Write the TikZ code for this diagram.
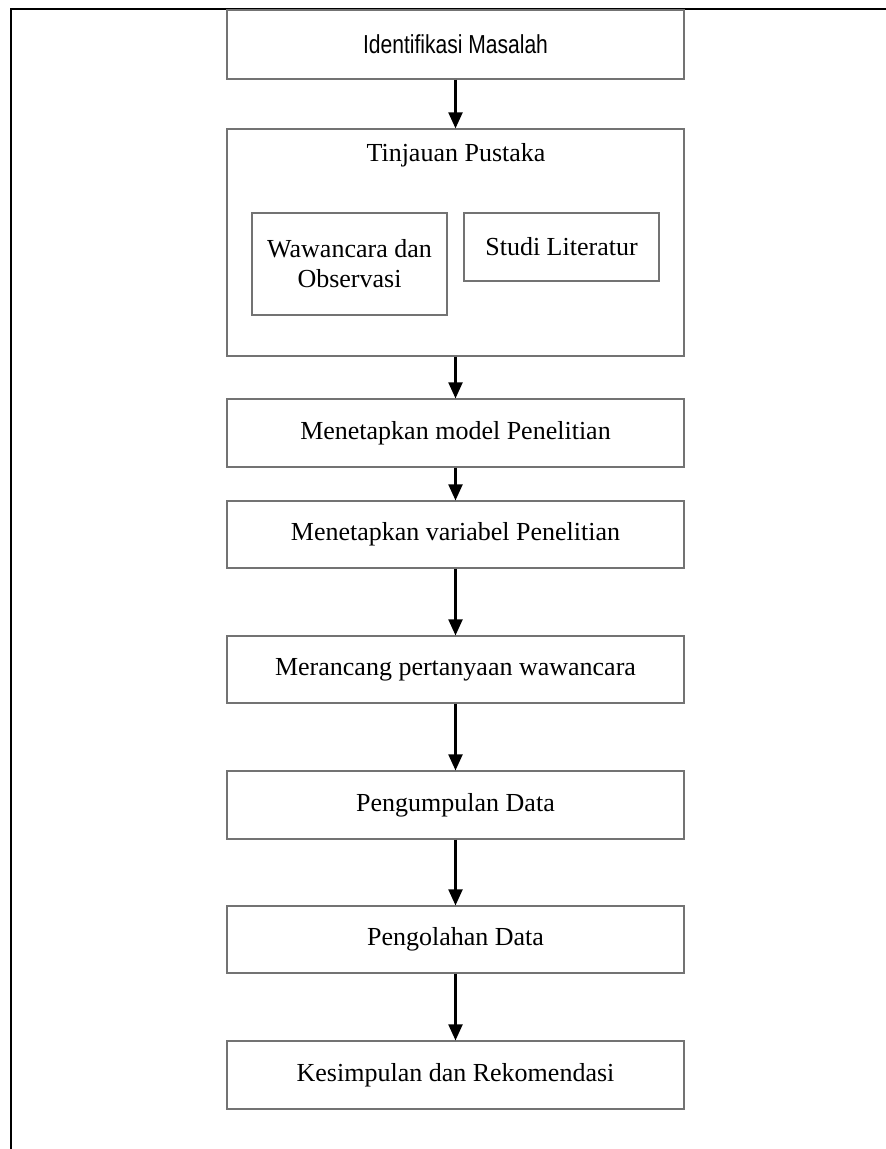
\documentclass[tikz,border=0pt]{standalone}
\usepackage{fontspec}
\setmainfont{Liberation Serif}
\newfontfamily\arialf[FakeStretch=0.81]{Liberation Sans}
\usetikzlibrary{arrows.meta}
\begin{document}
\begin{tikzpicture}[x=1pt,y=-1pt,
  box/.style={draw=black!55,line width=1.2pt,rectangle,minimum width=457pt,minimum height=68pt,inner sep=0pt,font=\fontsize{26}{31}\selectfont},
  inbox/.style={draw=black!55,line width=1.2pt,rectangle,minimum width=195pt,inner sep=0pt,align=center,font=\fontsize{26}{30}\selectfont},
  arr/.style={line width=2.1pt,-{Triangle[width=14pt,length=16pt]}}]
\useasboundingbox (0,0) rectangle (886,1149);
% frame
\draw[line width=2.2pt] (11,1149) -- (11,9) -- (886,9);
% nodes
\node[box,minimum height=69pt,font=\arialf\fontsize{26}{30}\selectfont] (b1) at (455.5,44.5) {Identifikasi Masalah};
\node[box,minimum height=227pt] (b2) at (455.5,242.5) {};
\node[anchor=base,font=\fontsize{26}{30}\selectfont] (t2) at (456,161) {Tinjauan Pustaka};
\node[inbox,minimum height=102pt] (w) at (349.5,264) {Wawancara dan\\Observasi};
\node[inbox,minimum height=68pt] (s) at (561.5,247) {Studi Literatur};
\node[box] (b3) at (455.5,433) {Menetapkan model Penelitian};
\node[box,minimum height=67pt] (b4) at (455.5,534.5) {Menetapkan variabel Penelitian};
\node[box,minimum height=67pt] (b5) at (455.5,669.5) {Merancang pertanyaan wawancara};
\node[box] (b6) at (455.5,805) {Pengumpulan Data};
\node[box,minimum height=67pt] (b7) at (455.5,939.5) {Pengolahan Data};
\node[box] (b8) at (455.5,1075) {Kesimpulan dan Rekomendasi};
% arrows
\draw[arr] (b1.south) -- (b2.north);
\draw[arr] (b2.south) -- (b3.north);
\draw[arr] (b3.south) -- (b4.north);
\draw[arr] (b4.south) -- (b5.north);
\draw[arr] (b5.south) -- (b6.north);
\draw[arr] (b6.south) -- (b7.north);
\draw[arr] (b7.south) -- (b8.north);
\end{tikzpicture}
\end{document}
